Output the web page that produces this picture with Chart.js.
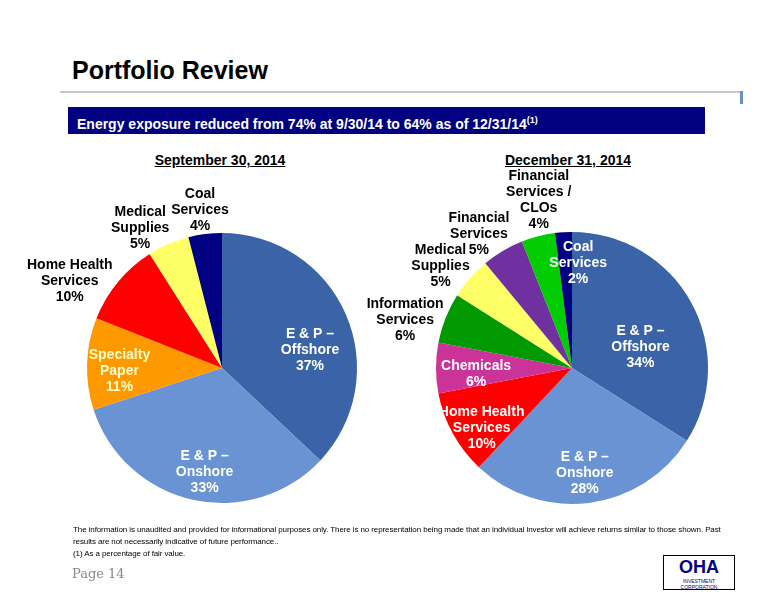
<!DOCTYPE html>
<html><head><meta charset="utf-8">
<script src="https://cdn.jsdelivr.net/npm/chart.js@4/dist/chart.umd.min.js"></script>
<style>
body{margin:0;width:776px;height:600px;background:#fff;font-family:"Liberation Sans",Arial,sans-serif;position:relative;overflow:hidden}
.abs{position:absolute}
</style></head><body>
<div class="abs" style="left:72px;top:56px;font-size:25px;font-weight:bold">Portfolio Review</div>
<div class="abs" style="left:60px;top:91px;width:682px;height:2px;background:#c8c8c8"></div>
<div class="abs" style="left:740px;top:91px;width:3px;height:13px;background:#6a8fc8"></div>
<div class="abs" style="left:68px;top:107px;width:637px;height:27px;background:#000080;color:#fff;font-weight:bold;font-size:14px;line-height:27px;padding-left:9px;box-sizing:border-box">Energy exposure reduced from 74% at 9/30/14 to 64% as of 12/31/14<sup style="font-size:9px">(1)</sup></div>
<div class="abs" style="left:120px;top:152px;width:200px;text-align:center;font-weight:bold;font-size:14px;text-decoration:underline">September 30, 2014</div>
<div class="abs" style="left:468px;top:152px;width:200px;text-align:center;font-weight:bold;font-size:14px;text-decoration:underline">December 31, 2014</div>
<canvas id="c1" class="abs" style="left:-18px;top:148px" width="480" height="440"></canvas>
<canvas id="c2" class="abs" style="left:332px;top:148px" width="480" height="440"></canvas>
<div class="abs" style="left:73px;top:524px;width:660px;font-size:8px;line-height:12px;letter-spacing:-0.1px">The information is unaudited and provided for informational purposes only. There is no representation being made that an individual investor will achieve returns similar to those shown. Past results are not necessarily indicative of future performance..<br>(1) As a percentage of fair value.</div>
<div class="abs" style="left:72px;top:566px;font-family:'DejaVu Serif',serif;font-size:13px;color:#888">Page 14</div>
<div class="abs" style="left:663px;top:555px;width:72px;height:35px;border:1px solid #000;box-sizing:border-box;text-align:center;background:#fff">
<div style="font-weight:bold;font-size:18px;color:#000080;line-height:22px">OHA</div>
<div style="font-size:5px;color:#000080">INVESTMENT CORPORATION</div></div>
<script>
const sepLabels = [['E & P –','Offshore'],['E & P –','Onshore'],['Specialty','Paper'],['Home Health','Services'],['Medical','Supplies'],['Coal','Services']];
const sepValues = [37, 33, 11, 10, 5, 4];
const sepColors = ['#3A63A8','#6A93D4','#FF9900','#FF0000','#FFFF66','#000080'];
const sepLabelColors = ['#fff','#fff','#ffffcc','#000','#000','#000'];
const sepLabelRadius = [0.67, 0.76, 0.76, 1.3, 1.19, 1.18];
const sepLabelNudge = [[5,18],[5,4],[0,6],[-17,25],[-18,8],[-2,0]];

const decLabels = [['E & P –','Offshore'],['E & P –','Onshore'],['Home Health','Services'],['Chemicals'],['Information','Services'],['Medical','Supplies'],['Financial','Services'],['Financial','Services /','CLOs'],['Coal','Services']];
const decValues = [34, 28, 10, 6, 6, 5, 5, 4, 2];
const decColors = ['#3A63A8','#6A93D4','#FF0000','#CC3399','#009900','#FFFF66','#7030A0','#00CC00','#000080'];
const decLabelColors = ['#fff','#fff','#fff','#fff','#000','#000','#000','#000','#fff'];
const decLabelRadius = [0.6, 0.75, 0.8, 0.72, 1.28, 1.23, 1.2, 1.22, 0.8];
const decLabelNudge = [[-3,18],[0,4],[5,8],[2,6],[-5,16],[-6,9],[-10,7],[8,-7],[13,4]];

const labelPlugin = {
  id: 'sliceLabels',
  afterDraw(chart, args, opts) {
    const ctx = chart.ctx;
    const meta = chart.getDatasetMeta(0);
    const vals = chart.data.datasets[0].data;
    ctx.save();
    ctx.font = 'bold 14px "Liberation Sans", Arial, sans-serif';
    ctx.textAlign = 'center';
    ctx.textBaseline = 'middle';
    meta.data.forEach((arc, i) => {
      const mid = (arc.startAngle + arc.endAngle) / 2;
      const r = arc.outerRadius * opts.radius[i];
      const x = arc.x + r * Math.cos(mid) + opts.nudge[i][0];
      const y = arc.y + r * Math.sin(mid) + opts.nudge[i][1];
      const lines = chart.data.labels[i].concat([vals[i] + '%']);
      ctx.fillStyle = opts.colors[i];
      const h = 16;
      lines.forEach((t, k) => ctx.fillText(t, x, y + (k - (lines.length - 1) / 2) * h));
    });
    ctx.restore();
  }
};

function makePie(id, labels, values, colors, labelColors, radius, nudge, pad) {
  new Chart(document.getElementById(id), {
    type: 'pie',
    data: { labels: labels, datasets: [{ data: values, backgroundColor: colors, borderWidth: 0 }] },
    options: {
      responsive: false, animation: false,
      layout: { padding: pad },
      plugins: { legend: { display: false }, tooltip: { enabled: false },
        sliceLabels: { colors: labelColors, radius: radius, nudge: nudge } }
    },
    plugins: [labelPlugin]
  });
}
makePie('c1', sepLabels, sepValues, sepColors, sepLabelColors, sepLabelRadius, sepLabelNudge, { left: 105, right: 105, top: 85, bottom: 85 });
makePie('c2', decLabels, decValues, decColors, decLabelColors, decLabelRadius, decLabelNudge, { left: 104, right: 104, top: 84, bottom: 84 });
</script>
</body></html>
